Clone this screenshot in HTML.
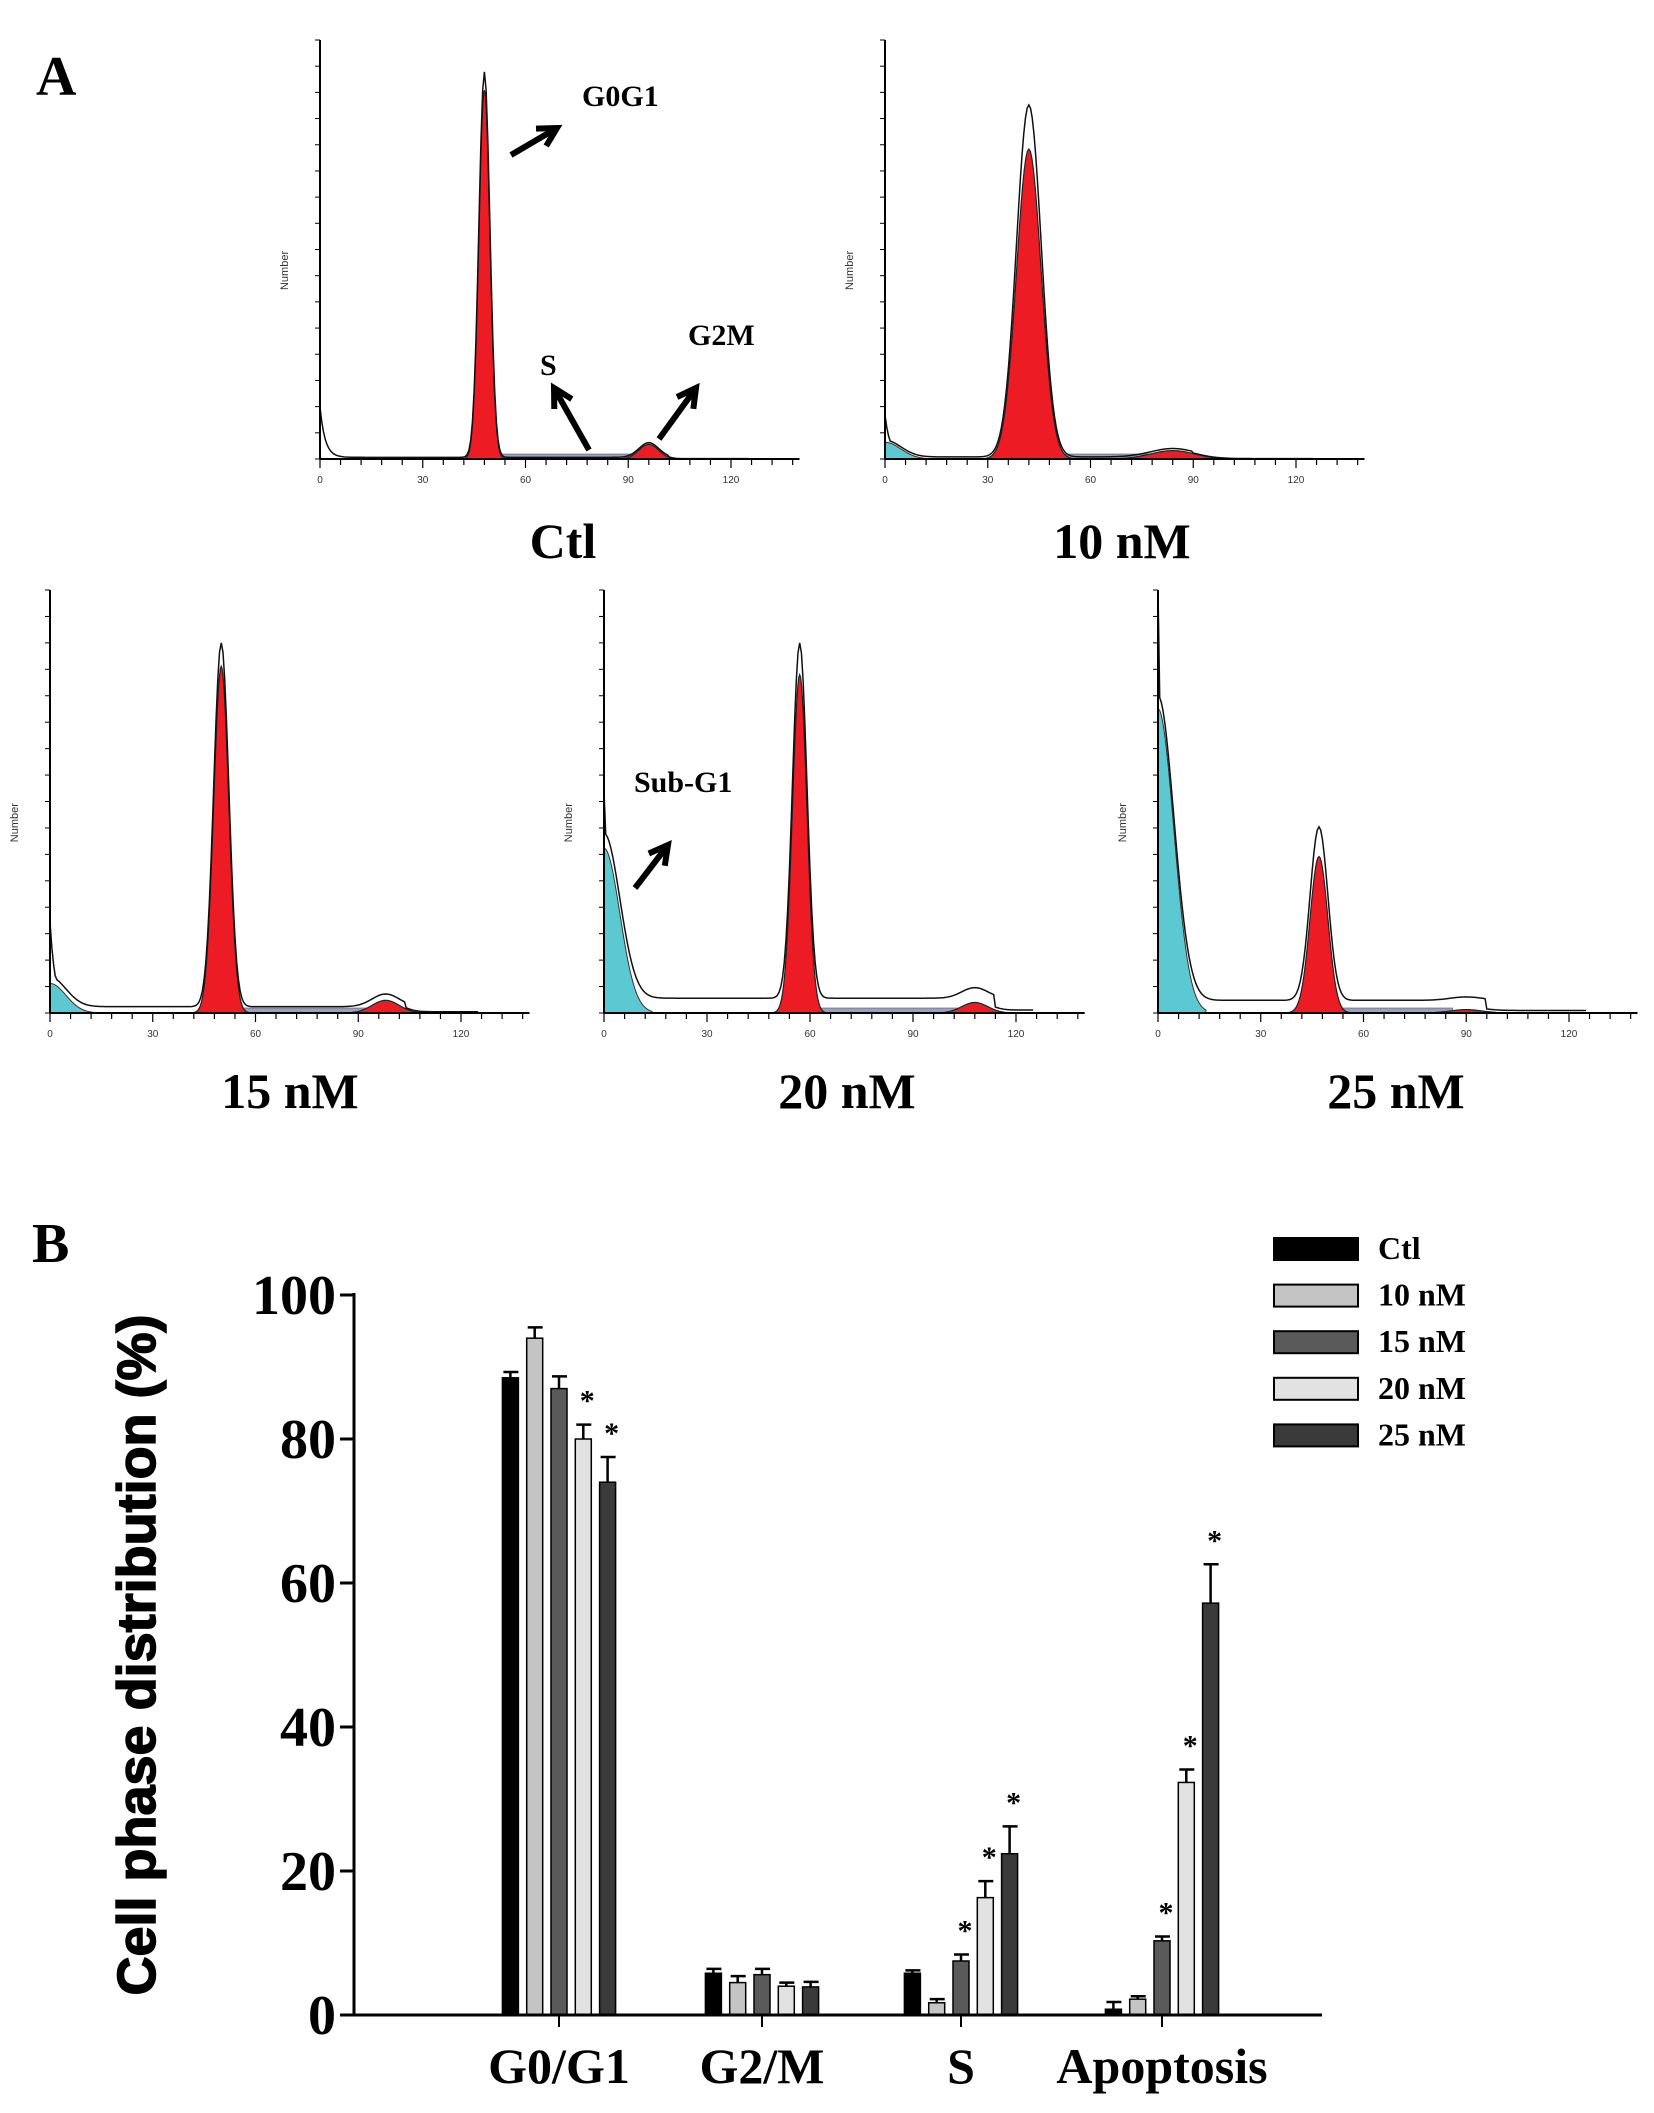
<!DOCTYPE html>
<html><head><meta charset="utf-8"><style>
html,body{margin:0;padding:0;background:#fff}
svg{display:block}
.serif{font-family:"Liberation Serif",serif;font-weight:bold}
.sans{font-family:"Liberation Sans",sans-serif;font-weight:bold}
</style></head><body>
<svg id="fig" width="1654" height="2113" viewBox="0 0 1654 2113" xmlns="http://www.w3.org/2000/svg">
<text x="36" y="95" class="serif" font-size="56">A</text>
<text x="32" y="1262" class="serif" font-size="56">B</text>
<g id="hists"></g>
<g id="annot" class="serif" font-size="30">
<text x="582" y="106">G0G1</text>
<text x="540" y="375">S</text>
<text x="688" y="345">G2M</text>
<text x="634" y="792">Sub-G1</text>
</g>
<g id="arrows" stroke="#000" stroke-width="6" fill="#000"></g>
<g id="bars"></g>
</svg>
<script>
// ---------- Panel B data ----------
const groups = ["G0/G1","G2/M","S","Apoptosis"];
const seriesNames = ["Ctl","10 nM","15 nM","20 nM","25 nM"];
const ctlVals = [88.5,5.8,5.8,0.8];
const nm10Vals = [94,4.5,1.7,2.2];
const nm15Vals = [87,5.6,7.5,10.3];
const nm20Vals = [80,4.0,16.3,32.3];
const nm25Vals = [74,3.9,22.4,57.2];
const ctlErr = [0.8,0.6,0.4,1.0];
const nm10Err = [1.5,0.9,0.5,0.4];
const nm15Err = [1.7,0.8,0.9,0.6];
const nm20Err = [2.0,0.5,2.3,1.8];
const nm25Err = [3.5,0.7,3.8,5.4];
const ctlStar = [0,0,0,0];
const nm10Star = [0,0,0,0];
const nm15Star = [0,0,1,1];
const nm20Star = [1,0,1,1];
const nm25Star = [1,0,1,1];
const yTicks = [0,20,40,60,80,100];

// ---------- Panel A data ----------
const histTitles = ["Ctl","10 nM","15 nM","20 nM","25 nM"];
const g1Center = [48,42,50,57,47];
const g1Sigma = [1.6,3.6,2.2,2.1,2.6];
const g1Height = [0.88,0.74,0.82,0.80,0.37];
const g1Outline = [0.92,0.84,0.86,0.84,0.41];
const g2Center = [96,84,98,108,90];
const g2Height = [0.035,0.02,0.03,0.025,0.008];
const subG1Height = [0.0,0.04,0.07,0.39,0.72];
const subG1Spike = [0.12,0.1,0.2,0.49,0.97];
const sLevel = [0.004,0.005,0.015,0.035,0.03];

const NS="http://www.w3.org/2000/svg";
function mk(tag,attrs,parent,txt){const e=document.createElementNS(NS,tag);for(const k in attrs)e.setAttribute(k,attrs[k]);if(txt!==undefined)e.textContent=txt;parent.appendChild(e);return e;}

const panels=[{ax:320,base:459,top:40,w:411},{ax:885,base:459,top:40,w:411},{ax:50,base:1013,top:590,w:411},{ax:604,base:1013,top:590,w:412},{ax:1158,base:1013,top:590,w:411}];
const labelPos=[[563,558],[1122,558],[290,1108],[847,1108],[1396,1108]];
const hg=document.getElementById('hists');
panels.forEach((p,i)=>{
  const g=mk('g',{},hg);
  
  
  const H=p.base-p.top;
  const xs=c=>p.ax+c*p.w/120;
  const ys=v=>p.base-v*H;
  let d='M'+xs(0)+','+p.base;
  for(let c=0;c<=14;c+=0.5){d+=' L'+xs(c)+','+ys(subG1Height[i]*Math.exp(-Math.pow(c/6.5,2)));}
  d+=' L'+xs(14)+','+p.base+' Z';
  const cy=mk('path',{d:d,fill:'#5bc8d2',stroke:'#333','stroke-width':1},g);
  
  const sb=mk('rect',{x:xs(g1Center[i]+4),y:p.base-5,width:xs(g2Center[i]-4)-xs(g1Center[i]+4),height:5,fill:'#9aa0c0',stroke:'#555','stroke-width':0.6},g);
  
  function peak(cen,sig,h){let s='M'+xs(cen-4*sig)+','+p.base;for(let c=cen-4*sig;c<=cen+4*sig;c+=sig/8){s+=' L'+xs(c)+','+ys(h*Math.exp(-0.5*Math.pow((c-cen)/sig,2)));}return s+' L'+xs(cen+4*sig)+','+p.base+' Z';}
  const r1=mk('path',{d:peak(g1Center[i],g1Sigma[i],g1Height[i]),fill:'#ed1c24',stroke:'#222','stroke-width':1.2},g);
  
  const r2=mk('path',{d:peak(g2Center[i],g1Sigma[i]*1.8,g2Height[i]),fill:'#ed1c24',stroke:'#222','stroke-width':1.2},g);
  
  let o='M'+xs(0)+','+ys(subG1Spike[i]);
  for(let c=0;c<=125;c+=0.5){
    let v=Math.max(subG1Spike[i]*Math.exp(-c/1.5),subG1Height[i]*Math.exp(-Math.pow(c/6.5,2)))+sLevel[i]*(c<g2Center[i]+6?1:0.2)
      +g1Outline[i]*Math.exp(-0.5*Math.pow((c-g1Center[i])/g1Sigma[i],2))+g2Height[i]*Math.exp(-0.5*Math.pow((c-g2Center[i])/(g1Sigma[i]*1.8),2));
    o+=' L'+xs(c)+','+ys(v);
  }
  const ol=mk('path',{d:o,fill:'none',stroke:'#111','stroke-width':1.5},g);
  
  mk('line',{x1:p.ax,y1:p.top,x2:p.ax,y2:p.base,stroke:'#000','stroke-width':2},g);
  mk('line',{x1:p.ax,y1:p.base,x2:xs(140),y2:p.base,stroke:'#000','stroke-width':2},g);
  for(let c=0;c<=138;c+=6){mk('line',{x1:xs(c),y1:p.base,x2:xs(c),y2:p.base+(c%30==0?9:6),stroke:'#000','stroke-width':1.2},g);}
  for(let c=0;c<=120;c+=30){const t=mk('text',{x:xs(c),y:p.base+24,'font-size':10,'text-anchor':'middle','font-family':'Liberation Sans,sans-serif',fill:'#333'},g,String(c));}
  for(let k=0;k<=16;k++){const yy=p.base-k*H/16;if(yy<p.top)break;mk('line',{x1:p.ax-5,y1:yy,x2:p.ax,y2:yy,stroke:'#000','stroke-width':1},g);}
  const nt=mk('text',{x:0,y:0,'font-size':11,'text-anchor':'middle','font-family':'Liberation Sans,sans-serif',fill:'#333',transform:'translate('+(p.ax-32)+','+(p.top+H*0.55)+') rotate(-90)'},g,'Number');
  const tl=mk('text',{x:labelPos[i][0],y:labelPos[i][1],'font-size':50,'text-anchor':'middle',class:'serif'},hg,histTitles[i]);
  
});

const arrowsG=document.getElementById('arrows');
[[511,155,557,128],[589,450,554,388],[659,439,696,388],[635,888,668,845]].forEach(a=>{
  const ag=mk('g',{},arrowsG);
  
  mk('line',{x1:a[0],y1:a[1],x2:a[2],y2:a[3]},ag);
  const ang=Math.atan2(a[3]-a[1],a[2]-a[0]);const L=18;
  const p1=[a[2]-L*Math.cos(ang-0.5),a[3]-L*Math.sin(ang-0.5)],p2=[a[2]-L*Math.cos(ang+0.5),a[3]-L*Math.sin(ang+0.5)];
  mk('polyline',{points:p1.join(',')+' '+a[2]+','+a[3]+' '+p2.join(','),fill:'none','stroke-linecap':'square'},ag);
});

const bg=document.getElementById('bars');
const X0=354,X1=1322,Y0=2015,Y100=1295;
const yS=v=>Y0-(v/100)*(Y0-Y100);
const groupCenters=[559,762,961,1162];
const colors=['#000000','#c4c4c4','#5a5a5a','#e2e2e2','#3a3a3a'];
const vals=[ctlVals,nm10Vals,nm15Vals,nm20Vals,nm25Vals];
const errs=[ctlErr,nm10Err,nm15Err,nm20Err,nm25Err];
const stars=[ctlStar,nm10Star,nm15Star,nm20Star,nm25Star];
const bw=16,step=24.3;
groups.forEach((g,gi)=>{
  vals.forEach((sv,si)=>{
    const cx=groupCenters[gi]+(si-2)*step;
    const v=sv[gi],e=errs[si][gi];
    const r=mk('rect',{x:cx-bw/2,y:yS(v),width:bw,height:Y0-yS(v),fill:colors[si],stroke:'#000','stroke-width':1.5},bg);
    
    
    const eb=mk('path',{d:'M'+cx+','+yS(v)+' L'+cx+','+yS(v+e)+' M'+(cx-7)+','+yS(v+e)+' L'+(cx+8)+','+yS(v+e),stroke:'#000','stroke-width':2.5,fill:'none'},bg);
    
    if(stars[si][gi]){const st=mk('text',{x:cx+4,y:yS(v+e)-14,'font-size':30,'text-anchor':'middle',class:'serif'},bg,'*');}
  });
  const xl=mk('text',{x:groupCenters[gi],y:2083,'font-size':50,'text-anchor':'middle',class:'serif'},bg,g);
  
  mk('line',{x1:groupCenters[gi],y1:Y0,x2:groupCenters[gi],y2:Y0+12,stroke:'#000','stroke-width':2},bg);
});
const ya=mk('line',{x1:X0,y1:Y100-2,x2:X0,y2:Y0,stroke:'#000','stroke-width':3},bg);

const xa=mk('line',{x1:X0,y1:Y0,x2:X1,y2:Y0,stroke:'#000','stroke-width':3},bg);

yTicks.forEach(t=>{
  mk('line',{x1:X0-14,y1:yS(t),x2:X0,y2:yS(t),stroke:'#000','stroke-width':3},bg);
  const tt=mk('text',{x:X0-18,y:yS(t)+19,'font-size':56,'text-anchor':'end',class:'serif'},bg,String(t));
  
});
const yt=mk('text',{x:0,y:0,'font-size':54,'text-anchor':'middle',class:'sans',stroke:'#000','stroke-width':1.5,transform:'translate(155,1655) rotate(-90)'},bg,'Cell phase distribution (%)');

seriesNames.forEach((n,si)=>{
  const y=1238+si*46.6;
  const lg=mk('g',{},bg);
  
  mk('rect',{x:1274,y:y,width:84,height:22,fill:colors[si],stroke:'#000','stroke-width':2},lg);
  mk('text',{x:1378,y:y+21,'font-size':32,class:'serif'},lg,n);
});
</script>
</body></html>
